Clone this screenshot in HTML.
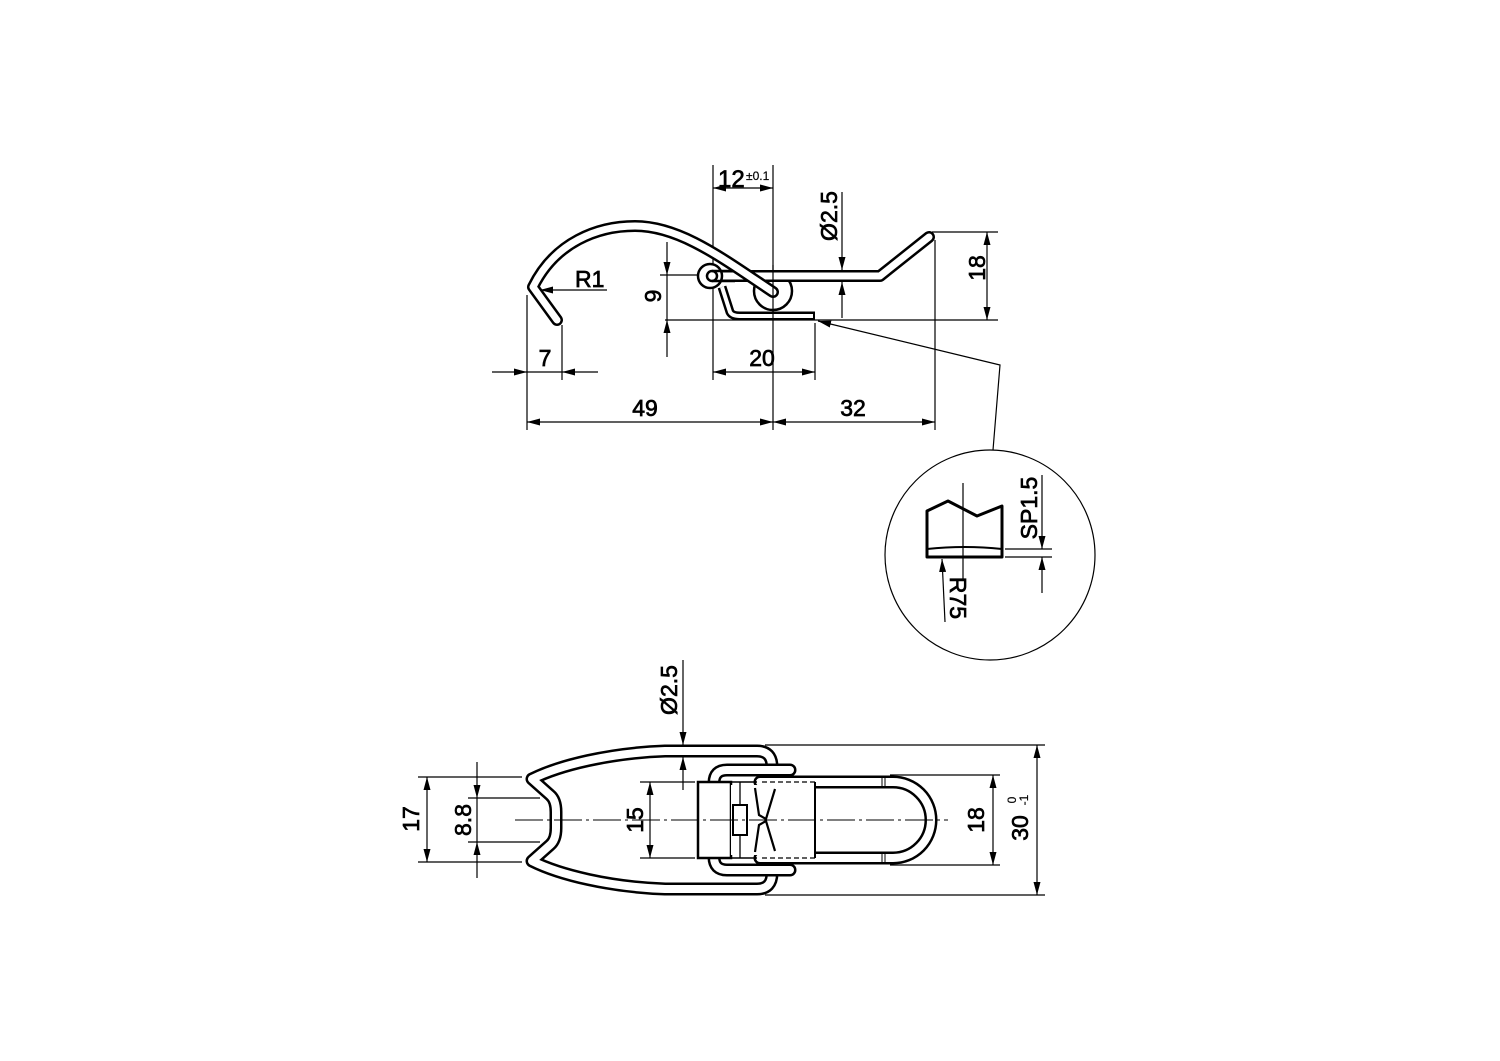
<!DOCTYPE html>
<html><head><meta charset="utf-8"><style>
html,body{margin:0;padding:0;background:#fff;}
svg{display:block;}
text{font-family:"Liberation Sans Narrow","Liberation Sans",sans-serif;fill:#000;stroke:#000;stroke-width:0.7px;}
</style></head><body>
<svg width="1500" height="1061" viewBox="0 0 1500 1061" xmlns="http://www.w3.org/2000/svg">
<defs>
<marker id="a" viewBox="0 0 13 7" refX="13" refY="3.5" markerWidth="13" markerHeight="7" markerUnits="userSpaceOnUse" orient="auto-start-reverse"><path d="M0,0L13,3.5L0,7z" fill="#000" stroke="none"/></marker>
</defs>
<rect width="1500" height="1061" fill="#fff"/>

<g fill="none" stroke="#000" stroke-width="1.2">
  <line x1="713" y1="165" x2="713" y2="380"/>
  <line x1="773" y1="165" x2="773" y2="430"/>
  <line x1="815" y1="323" x2="815" y2="380"/>
  <line x1="935" y1="240" x2="935" y2="430"/>
  <line x1="527" y1="295" x2="527" y2="430"/>
  <line x1="562" y1="325" x2="562" y2="380"/>
  <line x1="665" y1="320" x2="998" y2="320"/>
  <line x1="932" y1="232" x2="998" y2="232"/>
  <line x1="660" y1="275" x2="705" y2="275"/>
  <line x1="713" y1="188" x2="773" y2="188" marker-start="url(#a)" marker-end="url(#a)"/>
  <line x1="842" y1="192" x2="842" y2="270" marker-end="url(#a)"/>
  <line x1="842" y1="318" x2="842" y2="282" marker-end="url(#a)"/>
  <line x1="987" y1="232" x2="987" y2="320" marker-start="url(#a)" marker-end="url(#a)"/>
  <line x1="667" y1="242" x2="667" y2="275" marker-end="url(#a)"/>
  <line x1="667" y1="357" x2="667" y2="320" marker-end="url(#a)"/>
  <line x1="667" y1="275" x2="667" y2="320"/>
  <line x1="607" y1="290" x2="540" y2="290" marker-end="url(#a)"/>
  <line x1="492" y1="372" x2="527" y2="372" marker-end="url(#a)"/>
  <line x1="598" y1="372" x2="562" y2="372" marker-end="url(#a)"/>
  <line x1="527" y1="372" x2="562" y2="372"/>
  <line x1="713" y1="372" x2="815" y2="372" marker-start="url(#a)" marker-end="url(#a)"/>
  <line x1="527" y1="422" x2="773" y2="422" marker-start="url(#a)" marker-end="url(#a)"/>
  <line x1="773" y1="422" x2="935" y2="422" marker-start="url(#a)" marker-end="url(#a)"/>
  <polyline points="993,450 1000,365 818,321" marker-end="url(#a)"/>
</g>
<g fill="none" stroke-linejoin="round">
  <path d="M722,287 L730,312 Q732,316 740,316 L815,316" stroke="#000" stroke-width="9"/>
  <path d="M722,287 L730,312 Q732,316 740,316 L813,316" stroke="#fff" stroke-width="4"/>
</g>
<circle cx="773" cy="291" r="19" fill="#fff" stroke="#000" stroke-width="2.5"/>
<g fill="none" stroke-linecap="round" stroke-linejoin="round">
  <path d="M710,276 L880,276 L929,237" stroke="#000" stroke-width="12"/>
  <path d="M710,276 L880,276 L929,237" stroke="#fff" stroke-width="7"/>
</g>
<circle cx="710" cy="276" r="12" fill="#fff" stroke="#000" stroke-width="2.5"/>
<circle cx="712" cy="276" r="5" fill="#fff" stroke="#000" stroke-width="2.5"/>
<line x1="712" y1="271" x2="735" y2="271" stroke="#000" stroke-width="2.5"/>
<line x1="712" y1="281" x2="735" y2="281" stroke="#000" stroke-width="2.5"/>
<g fill="none" stroke-linecap="round" stroke-linejoin="round">
  <path d="M557,320 L533,287 C555,242 598,226 635,226 C680,226 722,258 773,292" stroke="#000" stroke-width="12"/>
  <path d="M557,320 L533,287 C555,242 598,226 635,226 C680,226 722,258 773,292" stroke="#fff" stroke-width="7"/>
</g>
<line x1="773" y1="265" x2="773" y2="318" stroke="#000" stroke-width="1.2"/>

<text x="718" y="187" font-size="24">12</text>
<text x="746" y="180" font-size="12" style="stroke-width:0.2px">±0.1</text>
<text transform="translate(837,216) rotate(-90)" font-size="23" text-anchor="middle">Ø2.5</text>
<text transform="translate(985,268) rotate(-90)" font-size="23" text-anchor="middle">18</text>
<text transform="translate(661,296) rotate(-90)" font-size="23" text-anchor="middle">9</text>
<text x="575" y="287" font-size="23">R1</text>
<text x="545" y="366" font-size="23" text-anchor="middle">7</text>
<text x="762" y="366" font-size="23" text-anchor="middle">20</text>
<text x="645" y="416" font-size="23" text-anchor="middle">49</text>
<text x="853" y="416" font-size="23" text-anchor="middle">32</text>

<circle cx="990" cy="555" r="105" fill="none" stroke="#000" stroke-width="1.2"/>
<path d="M927,557 L927,511 L948,501 L977,516 L1002,506 L1002,557 Z" fill="none" stroke="#000" stroke-width="3" stroke-linejoin="round"/>
<path d="M927,549 Q965,545 1002,549" fill="none" stroke="#000" stroke-width="2"/>
<g fill="none" stroke="#000" stroke-width="1.2">
  <line x1="963" y1="483" x2="963" y2="580"/>
  <line x1="1005" y1="549" x2="1052" y2="549"/>
  <line x1="1005" y1="557" x2="1052" y2="557"/>
  <line x1="1042" y1="475" x2="1042" y2="549" marker-end="url(#a)"/>
  <line x1="1042" y1="593" x2="1042" y2="557" marker-end="url(#a)"/>
  <line x1="945" y1="622" x2="942" y2="559" marker-end="url(#a)"/>
</g>
<text transform="translate(1037,508) rotate(-90)" font-size="23" text-anchor="middle">SP1.5</text>
<text transform="translate(950,598) rotate(90)" font-size="23" text-anchor="middle">R75</text>

<g fill="none" stroke="#000" stroke-width="1.2">
  <line x1="418" y1="777" x2="522" y2="777"/>
  <line x1="418" y1="862" x2="522" y2="862"/>
  <line x1="468" y1="798" x2="540" y2="798"/>
  <line x1="468" y1="842" x2="540" y2="842"/>
  <line x1="640" y1="782" x2="695" y2="782"/>
  <line x1="640" y1="858" x2="695" y2="858"/>
  <line x1="765" y1="745" x2="1045" y2="745"/>
  <line x1="765" y1="895" x2="1045" y2="895"/>
  <line x1="890" y1="775" x2="1000" y2="775"/>
  <line x1="890" y1="865" x2="1000" y2="865"/>
  <line x1="427" y1="777" x2="427" y2="862" marker-start="url(#a)" marker-end="url(#a)"/>
  <line x1="477" y1="762" x2="477" y2="798" marker-end="url(#a)"/>
  <line x1="477" y1="878" x2="477" y2="842" marker-end="url(#a)"/>
  <line x1="477" y1="798" x2="477" y2="842"/>
  <line x1="650" y1="782" x2="650" y2="858" marker-start="url(#a)" marker-end="url(#a)"/>
  <line x1="993" y1="775" x2="993" y2="865" marker-start="url(#a)" marker-end="url(#a)"/>
  <line x1="1037" y1="745" x2="1037" y2="895" marker-start="url(#a)" marker-end="url(#a)"/>
  <line x1="683" y1="660" x2="683" y2="745" marker-end="url(#a)"/>
  <line x1="683" y1="790" x2="683" y2="757" marker-end="url(#a)"/>
</g>
<g fill="none" stroke-linecap="round" stroke-linejoin="round">
  <path d="M772,767 Q772,751 757,751 L665,751 C610,753 560,765 532,779 L550,795 Q556,800 556,812 L556,828 Q556,840 550,845 L532,861 C560,875 610,887 665,889 L757,889 Q772,889 772,873" stroke="#000" stroke-width="13"/>
  <path d="M772,767 Q772,751 757,751 L665,751 C610,753 560,765 532,779 L550,795 Q556,800 556,812 L556,828 Q556,840 550,845 L532,861 C560,875 610,887 665,889 L757,889 Q772,889 772,873" stroke="#fff" stroke-width="8"/>
</g>
<g fill="none" stroke-linecap="round" stroke-linejoin="round">
  <path d="M790,770 L727,770 Q714,770 714,783 L714,857 Q714,870 727,870 L790,870" stroke="#000" stroke-width="13"/>
  <path d="M790,770 L727,770 Q714,770 714,783 L714,857 Q714,870 727,870 L790,870" stroke="#fff" stroke-width="8"/>
</g>
<g fill="none" stroke-linecap="round" stroke-linejoin="round">
  <path d="M760,782 L893,782 A38,38 0 0 1 893,858 L760,858" stroke="#000" stroke-width="13"/>
  <path d="M760,782 L893,782 A38,38 0 0 1 893,858 L760,858" stroke="#fff" stroke-width="8"/>
</g>
<rect x="698" y="782" width="33" height="76" fill="#fff" stroke="#000" stroke-width="2.5"/>
<rect x="731" y="785" width="84" height="70" fill="#fff" stroke="none"/>
<g fill="none" stroke="#000">
  <line x1="731" y1="782" x2="757" y2="782" stroke-width="1.5"/>
  <line x1="731" y1="858" x2="757" y2="858" stroke-width="1.5"/>
  <line x1="815" y1="782" x2="815" y2="858" stroke-width="2"/>
  <line x1="762" y1="782" x2="815" y2="782" stroke-width="1.3" stroke-dasharray="5 3"/>
  <line x1="762" y1="858" x2="815" y2="858" stroke-width="1.3" stroke-dasharray="5 3"/>
  <line x1="740" y1="782" x2="740" y2="858" stroke-width="1.3"/>
  <rect x="733" y="805" width="14" height="30" fill="#fff" stroke-width="2"/>
  <polyline points="755,788 759,815 766,819 775,789" stroke-width="2.2"/>
  <polyline points="755,852 759,825 766,821 775,851" stroke-width="2.2"/>
  <line x1="882" y1="776" x2="882" y2="788" stroke-width="1"/>
  <line x1="885" y1="776" x2="885" y2="788" stroke-width="1"/>
  <line x1="882" y1="852" x2="882" y2="864" stroke-width="1"/>
  <line x1="885" y1="852" x2="885" y2="864" stroke-width="1"/>
</g>
<line x1="515" y1="820" x2="948" y2="820" stroke="#000" stroke-width="1.1" stroke-dasharray="28 4 3 4"/>

<text transform="translate(419,819) rotate(-90)" font-size="23" text-anchor="middle">17</text>
<text transform="translate(471,820) rotate(-90)" font-size="23" text-anchor="middle">8.8</text>
<text transform="translate(643,820) rotate(-90)" font-size="23" text-anchor="middle">15</text>
<text transform="translate(984,820) rotate(-90)" font-size="23" text-anchor="middle">18</text>
<text transform="translate(677,690) rotate(-90)" font-size="23" text-anchor="middle">Ø2.5</text>
<text transform="translate(1028,828) rotate(-90)" font-size="23" text-anchor="middle">30</text>
<text transform="translate(1016,800) rotate(-90)" font-size="12" text-anchor="middle" style="stroke-width:0.2px">0</text>
<text transform="translate(1028,800) rotate(-90)" font-size="12" text-anchor="middle" style="stroke-width:0.2px">-1</text>
</svg>
</body></html>
